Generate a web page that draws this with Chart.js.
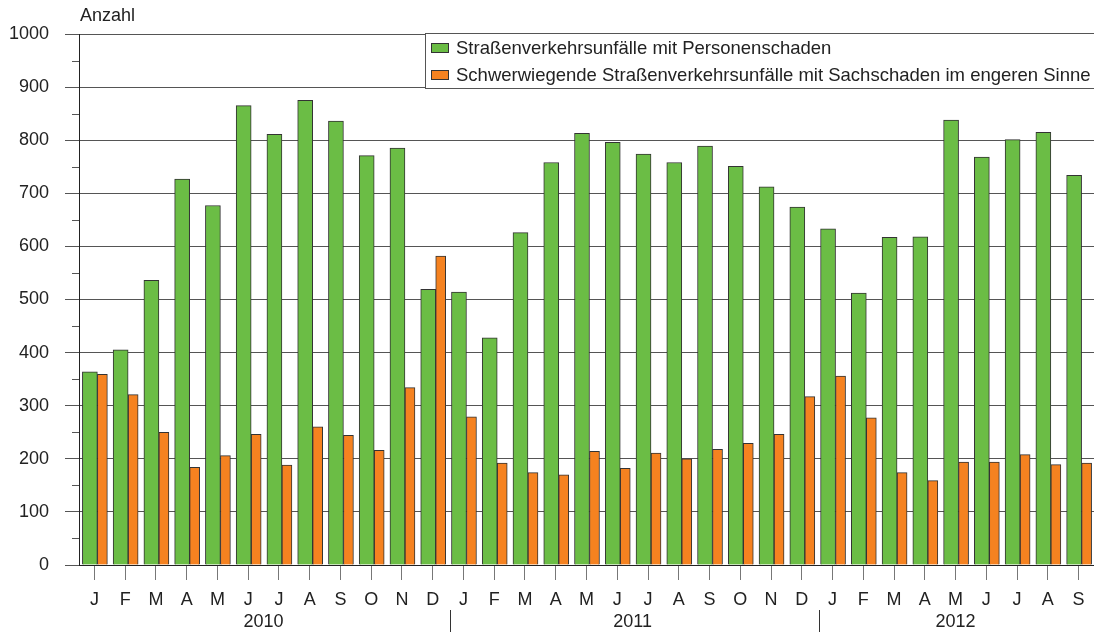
<!DOCTYPE html>
<html>
<head>
<meta charset="utf-8">
<script src="https://cdn.jsdelivr.net/npm/chart.js@4.4.1/dist/chart.umd.min.js"></script>
<style>
  html, body { margin: 0; padding: 0; background: #fff; }
  #wrap { width: 1094px; height: 636px; }
</style>
</head>
<body>
<div id="wrap"><canvas id="chart"></canvas></div>
<script>
// Monatswerte Jan 2010 – Sep 2012
const MONTHS = [
  'J','F','M','A','M','J','J','A','S','O','N','D',
  'J','F','M','A','M','J','J','A','S','O','N','D',
  'J','F','M','A','M','J','J','A','S',
]
const YEARS = ['2010', '2011', '2012']
const YEAR_LENGTHS = [12, 12, 9]

const Y_TITLE = 'Anzahl'
const Y_MIN = 0
const Y_MAX = 1000
const Y_STEP = 100

const LABEL_PERSON = 'Straßenverkehrsunfälle mit Personenschaden'
const LABEL_SACH = 'Schwerwiegende Straßenverkehrsunfälle mit Sachschaden im engeren Sinne'

const PERSONENSCHADEN = [
  364, 405, 536, 727, 677, 865, 811, 875, 836, 771, 785, 519,
  514, 428, 626, 758, 813, 796, 774, 758, 789, 751, 712, 674,
  633, 512, 617, 618, 838, 768, 801, 815, 734,
]
const SACHSCHADEN = [
  359, 321, 250, 184, 206, 246, 188, 260, 244, 216, 334, 582,
  279, 192, 174, 170, 214, 182, 211, 200, 218, 229, 246, 317,
  356, 277, 174, 159, 194, 194, 208, 189, 192,
]

const GREEN = '#6bbd45'
const ORANGE = '#f58220'
const EDGE = '#333333'
const TEXT = '#222222'
const GRID = '#555555'
const TICK = '#777777'
const FAMILY = '"Liberation Sans", Arial, sans-serif'
const FONT = { family: FAMILY, size: 18 }
const FONT_CSS = '18px ' + FAMILY
const LEGEND_CSS = '18.5px ' + FAMILY

// bars sit a few px right of the tick in the original
const barShift = {
  id: 'barShift',
  beforeDatasetsDraw(chart) {
    chart.ctx.save()
    chart.ctx.translate(3, 0)
  },
  afterDatasetsDraw(chart) {
    chart.ctx.restore()
  },
}

// minor ticks, axis title, year row and legend box
const decor = {
  id: 'decor',
  afterDraw(chart) {
    const { ctx, chartArea: area, scales: { x, y } } = chart
    ctx.save()

    ctx.strokeStyle = GRID
    ctx.lineWidth = 1
    for (let v = Y_MIN + Y_STEP / 2; v < Y_MAX; v += Y_STEP) {
      const py = Math.round(y.getPixelForValue(v)) + 0.5
      ctx.beginPath()
      ctx.moveTo(area.left - 7, py)
      ctx.lineTo(area.left, py)
      ctx.stroke()
    }

    ctx.fillStyle = TEXT
    ctx.font = FONT_CSS
    ctx.textAlign = 'left'
    ctx.textBaseline = 'middle'
    ctx.fillText(Y_TITLE, area.left + 1, 16)

    // year labels + separators
    ctx.textAlign = 'center'
    ctx.strokeStyle = '#333'
    const half = (x.getPixelForValue(1) - x.getPixelForValue(0)) / 2
    let start = 0
    YEARS.forEach((yr, i) => {
      const end = start + YEAR_LENGTHS[i] - 1
      const x0 = x.getPixelForValue(start) - half
      const x1 = x.getPixelForValue(end) + half
      ctx.fillText(yr, (x0 + x1) / 2, area.bottom + 57)
      if (i > 0) {
        const px = Math.round(x0 + 2) + 0.5
        ctx.beginPath()
        ctx.moveTo(px, area.bottom + 45)
        ctx.lineTo(px, area.bottom + 67)
        ctx.stroke()
      }
      start = end + 1
    })

    // legend box
    const top = Math.round(y.getPixelForValue(Y_MAX)) - 0.5
    const bottom = Math.round(y.getPixelForValue(Y_MAX - Y_STEP)) + 1.5
    const left = 425.5
    const right = area.right
    ctx.fillStyle = '#fff'
    ctx.fillRect(left, top, right - left, bottom - top)
    ctx.strokeStyle = '#555'
    ctx.strokeRect(left, top, right - left + 2, bottom - top)

    ctx.font = LEGEND_CSS
    ctx.textAlign = 'left'
    chart.data.datasets.forEach((ds, i) => {
      const cy = top + 14 + i * 27.4
      const ky = Math.round(cy - 5)
      ctx.fillStyle = ds.backgroundColor
      ctx.fillRect(431, ky, 18, 10)
      ctx.strokeStyle = EDGE
      ctx.strokeRect(431.5, ky + 0.5, 17, 9)
      ctx.fillStyle = TEXT
      ctx.fillText(ds.label, 456, cy + 1)
    })

    ctx.restore()
  },
}

new Chart(document.getElementById('chart'), {
  type: 'bar',
  data: {
    labels: MONTHS,
    datasets: [
      {
        label: LABEL_PERSON,
        data: PERSONENSCHADEN,
        backgroundColor: GREEN,
        borderColor: EDGE,
        borderWidth: 1,
        barThickness: 15,
      },
      {
        label: LABEL_SACH,
        data: SACHSCHADEN,
        backgroundColor: ORANGE,
        borderColor: EDGE,
        borderWidth: 1,
        barThickness: 10,
      },
    ],
  },
  options: {
    responsive: true,
    maintainAspectRatio: false,
    animation: false,
    layout: { padding: { top: 34, right: 0, left: 0, bottom: 0 } },
    plugins: {
      legend: { display: false },
      tooltip: { enabled: false },
    },
    scales: {
      x: {
        offset: true,
        grid: { offset: false, drawOnChartArea: false, color: TICK, tickLength: 15 },
        border: { color: TEXT, width: 1 },
        ticks: { color: TEXT, font: FONT, autoSkip: false, maxRotation: 0, padding: 9 },
        afterFit: s => { s.height = 71 },
      },
      y: {
        min: Y_MIN,
        max: Y_MAX,
        grid: { color: GRID, tickLength: 14 },
        border: { color: TEXT, width: 1 },
        ticks: { stepSize: Y_STEP, color: TEXT, font: FONT, padding: 16, callback: v => String(v) },
        afterFit: s => { s.width = 79 },
      },
    },
  },
  plugins: [barShift, decor],
})
</script>
</body>
</html>
